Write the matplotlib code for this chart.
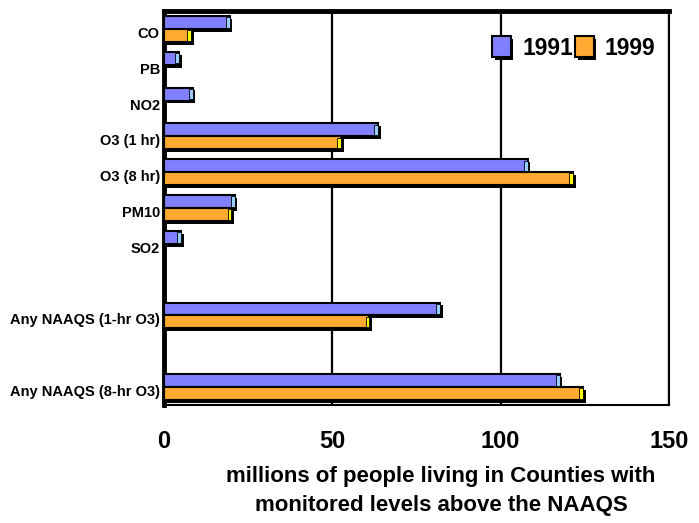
import matplotlib
matplotlib.use("Agg")
import matplotlib.pyplot as plt
import matplotlib.patheffects as pe
import matplotlib.transforms as mtransforms
import numpy as np

plt.rcParams['font.family'] = ['Liberation Sans', 'DejaVu Sans']
plt.rcParams['font.weight'] = 'bold'

# pollutant categories, top to bottom (blank entries are spacer rows)
categories = ['CO', 'PB', 'NO2', 'O3 (1 hr)', 'O3 (8 hr)', 'PM10', 'SO2', '',
              'Any NAAQS (1-hr O3)', '', 'Any NAAQS (8-hr O3)']
# millions of people in counties above the NAAQS
pop_1991 = [19.5, 4.5, 8.5, 63.5, 108, 21, 5, np.nan, 82, np.nan, 117.5]
pop_1999 = [8, 0, 0, 52.5, 121.5, 20, 0, np.nan, 61, np.nan, 124.5]
years = ['1991', '1999']

blue = '#8080FF'
orange = '#FFAA30'
blue_cap = '#99CCFF'
orange_cap = '#FFFF00'

fig = plt.figure(figsize=(6.99, 5.23), dpi=100)
ax = fig.add_axes([164 / 699, 1 - 405 / 523, (669 - 164) / 699, (405 - 11) / 523])

y = np.arange(len(categories))
h = 0.36
shadow = [pe.SimplePatchShadow(offset=(2, -2), shadow_rgbFace='black', alpha=1.0), pe.Normal()]

handles = []
for vals, off, col, capcol, lab in [(pop_1991, -h / 2, blue, blue_cap, years[0]),
                                     (pop_1999, h / 2, orange, orange_cap, years[1])]:
    vals = np.array(vals, dtype=float)
    keep = np.nan_to_num(vals) > 0
    bars = ax.barh(y[keep] + off, vals[keep], height=h, color=col,
                   edgecolor='black', linewidth=1.5, label=lab, zorder=3)
    for b in bars:
        b.set_path_effects(shadow)
    # small lighter end face on each bar
    capw = 1.1
    ax.barh(y[keep] + off, capw, left=vals[keep] - capw, height=h * 0.8,
            color=capcol, edgecolor='black', linewidth=0.6, zorder=4)
    handles.append(bars)

ax.set_xlim(0, 150)
ax.set_ylim(len(categories) - 0.5, -0.5)
ax.set_xticks([0, 50, 100, 150])
ax.set_xticklabels(['0', '50', '100', '150'], fontsize=17, fontweight='bold')
ax.set_yticks(y)
ax.set_yticklabels(categories, fontsize=10.5, fontweight='bold')
ax.tick_params(axis='both', length=0)
ax.tick_params(axis='x', pad=18)
ax.tick_params(axis='y', pad=3)

# category labels sit a little below the bar pair centre
down = mtransforms.ScaledTranslation(0, -2.5 / 72, fig.dpi_scale_trans)
for lbl in ax.get_yticklabels():
    lbl.set_transform(lbl.get_transform() + down)

ax.xaxis.grid(True, color='black', linewidth=1.6)
ax.set_axisbelow(True)

ax.spines['top'].set_linewidth(3.5)
ax.spines['left'].set_linewidth(3.5)
ax.spines['right'].set_linewidth(1.5)
ax.spines['bottom'].set_linewidth(1.5)

fig.text(441 / 699, 1 - 491 / 523,
         'millions of people living in Counties with\nmonitored levels above the NAAQS',
         ha='center', va='center', fontsize=16, fontweight='bold', linespacing=1.45)

fig.legend(handles=handles, labels=years, loc='center',
           bbox_to_anchor=(574 / 699, 1 - 48 / 523), ncol=2, frameon=False,
           prop={'size': 16.5, 'weight': 'bold'}, handlelength=0.8, handleheight=1.0,
           handletextpad=0.5, columnspacing=0.1)

fig.savefig('out.png', dpi=100)
